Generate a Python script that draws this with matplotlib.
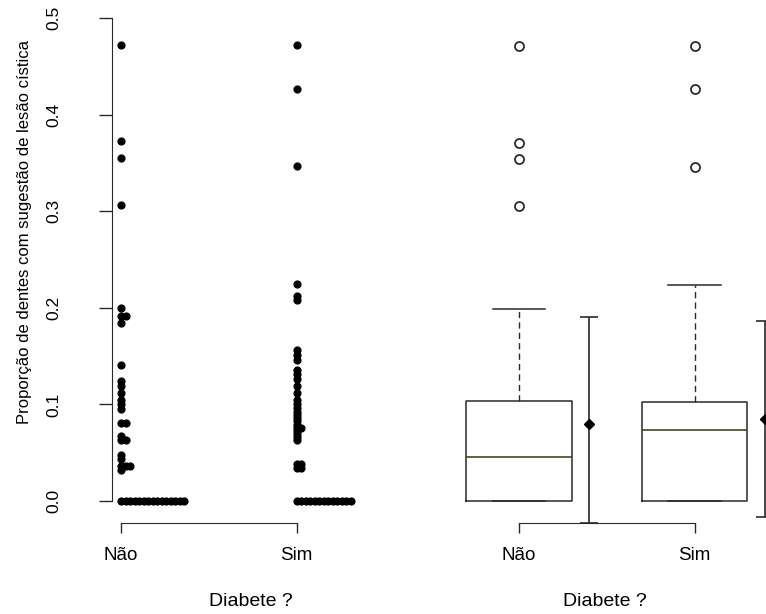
import matplotlib
matplotlib.use("Agg")
import matplotlib.pyplot as plt

plt.rcParams['font.family'] = ['Liberation Sans', 'DejaVu Sans']

# ---------------- data ----------------
categories = ["Não", "Sim"]
y_ticks = [0.0, 0.1, 0.2, 0.3, 0.4, 0.5]
y_tick_labels = ["0.0", "0.1", "0.2", "0.3", "0.4", "0.5"]

nao_values = [0.472, 0.373, 0.355, 0.306, 0.200, 0.192, 0.192, 0.184, 0.141,
              0.124, 0.119, 0.112, 0.105, 0.100, 0.095, 0.081, 0.081, 0.067,
              0.063, 0.063, 0.048, 0.043, 0.036, 0.036, 0.036, 0.032,
              0.0, 0.0, 0.0, 0.0, 0.0, 0.0, 0.0, 0.0, 0.0, 0.0, 0.0, 0.0,
              0.0, 0.0, 0.0]
sim_values = [0.472, 0.426, 0.347, 0.225, 0.212, 0.208, 0.156, 0.151, 0.146,
              0.136, 0.131, 0.126, 0.119, 0.112, 0.105, 0.100, 0.096, 0.092,
              0.089, 0.086, 0.083, 0.079, 0.076, 0.076, 0.072, 0.069, 0.066,
              0.063, 0.038, 0.038, 0.034, 0.034,
              0.0, 0.0, 0.0, 0.0, 0.0, 0.0, 0.0, 0.0, 0.0, 0.0, 0.0, 0.0, 0.0]

box_q1 = [0.0, 0.0]
box_med = [0.046, 0.073]
box_q3 = [0.104, 0.102]
whisker_low = [0.0, 0.0]
whisker_high = [0.199, 0.224]
outliers_nao = [0.471, 0.371, 0.354, 0.305]
outliers_sim = [0.471, 0.426, 0.346]

means = [0.080, 0.085]
bar_low = [-0.023, -0.017]
bar_high = [0.190, 0.186]

# ---------------- layout ----------------
W, H = 766, 614
fig = plt.figure(figsize=(W / 100, H / 100), dpi=100)
ax_top_px, ax_bot_px = 8, 515
ax_h = (ax_bot_px - ax_top_px) / H
ax_b = (H - ax_bot_px) / H
px_per_unit_y = 966.0
ylim = (-(ax_bot_px - 501) / px_per_unit_y, 0.5 + (18 - ax_top_px) / px_per_unit_y)
px_per_unit_x = 175.5
ax_w_px = 278

line_col = '#2a2a2a'
pt = 72 / 100.0  # points per pixel


def style_bottom(ax):
    ax.spines['top'].set_visible(False)
    ax.spines['right'].set_visible(False)
    ax.spines['bottom'].set_bounds(1, 2)
    ax.spines['bottom'].set_position(('outward', 8 * pt))
    ax.spines['bottom'].set_color(line_col)
    ax.set_xticks([1, 2])
    ax.set_xticklabels(categories)
    ax.tick_params(axis='x', length=10 * pt, width=1, color=line_col,
                   pad=14 * pt, labelsize=13.5)
    ax.set_xlabel("Diabete ?", fontsize=14)
    ax.xaxis.set_label_coords(0.5, (ax_bot_px - 602) / (ax_bot_px - ax_top_px))
    ax.xaxis.label.set_va('center')


# ---------------- left panel: stacked strip chart ----------------
ax1 = fig.add_axes([112 / W, ax_b, ax_w_px / W, ax_h])
ax1.set_ylim(*ylim)
ax1.set_xlim(1 - 9 / px_per_unit_x, 1 + (ax_w_px - 9) / px_per_unit_x)
stack_step = 4.5 / px_per_unit_x
for pos, vals in zip([1, 2], [nao_values, sim_values]):
    counts = {}
    xs, ys = [], []
    for v in vals:
        k = counts.get(v, 0)
        counts[v] = k + 1
        xs.append(pos + k * stack_step)
        ys.append(v)
    ax1.plot(xs, ys, 'o', ms=4.9, color='black', mec='black', clip_on=False)

style_bottom(ax1)
ax1.spines['left'].set_bounds(0, 0.5)
ax1.spines['left'].set_color(line_col)
ax1.set_yticks(y_ticks)
ax1.set_yticklabels(y_tick_labels, rotation=90, va='center')
ax1.tick_params(axis='y', length=13 * pt, width=1, color=line_col,
                pad=38 * pt, labelsize=12.5)
ax1.set_ylabel("Proporção de dentes com sugestão de lesão cística", fontsize=12)
ax1.yaxis.set_label_coords((25 - 112) / ax_w_px, (ax_bot_px - 232) / (ax_bot_px - ax_top_px))
ax1.yaxis.label.set_va('center')

# ---------------- right panel: boxplots + mean/sd bars ----------------
ax2 = fig.add_axes([466 / W, ax_b, ax_w_px / W, ax_h])
ax2.set_ylim(*ylim)
ax2.set_xlim(1 - 53 / px_per_unit_x, 1 + (ax_w_px - 53) / px_per_unit_x)
stats = []
for i, fl in enumerate([outliers_nao, outliers_sim]):
    stats.append(dict(med=box_med[i], q1=box_q1[i], q3=box_q3[i],
                      whislo=whisker_low[i], whishi=whisker_high[i], fliers=fl))
bp = ax2.bxp(stats, positions=[1, 2], widths=0.6, capwidths=0.3, showfliers=True,
             boxprops=dict(color=line_col, lw=1.1),
             medianprops=dict(color='#3d4a22', lw=1.2),
             whiskerprops=dict(color=line_col, lw=1.0, ls=(0, (4.5, 3))),
             capprops=dict(color=line_col, lw=1.1),
             flierprops=dict(marker='o', mfc='none', mec=line_col, ms=6.5, mew=1.3))
for group in bp.values():
    for art in group:
        art.set_clip_on(False)

eb = ax2.errorbar([1.4, 2.4], means,
                  yerr=[[m - l for m, l in zip(means, bar_low)],
                        [h - m for m, h in zip(means, bar_high)]],
                  fmt='D', ms=5, color='black', ecolor=line_col, elinewidth=1.2,
                  capsize=6.5, capthick=1.2)
for art in eb.get_children():
    art.set_clip_on(False)

style_bottom(ax2)
ax2.spines['left'].set_visible(False)
ax2.set_yticks([])

fig.savefig("out.png", dpi=100)
